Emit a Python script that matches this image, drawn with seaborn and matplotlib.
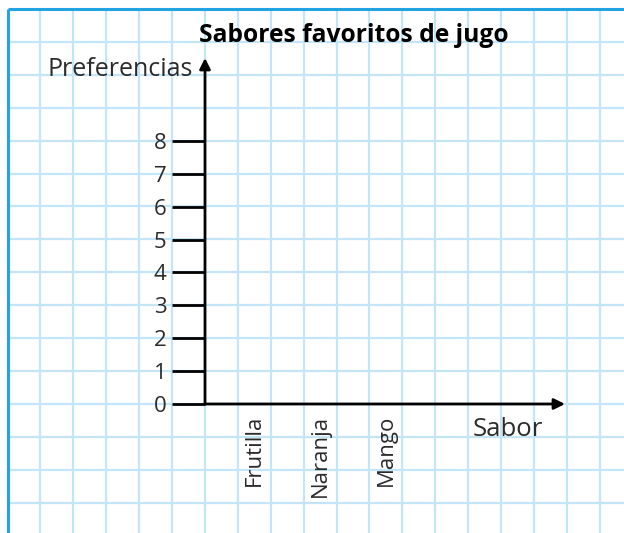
import matplotlib
matplotlib.use("Agg")
import matplotlib.pyplot as plt
import numpy as np
import pandas as pd
import seaborn as sns

# Chart content
sabores = ["Frutilla", "Naranja", "Mango"]
preferencias = [0, 0, 0]          # empty chart: no values filled in yet
valores_eje_y = [0, 1, 2, 3, 4, 5, 6, 7, 8]
titulo = "Sabores favoritos de jugo"
etiqueta_y = "Preferencias"
etiqueta_x = "Sabor"

sns.set_theme(style="white")
plt.rcParams["font.family"] = ["Open Sans", "DejaVu Sans"]

W, H = 624, 533
fig = plt.figure(figsize=(W / 100, H / 100), dpi=100)
fig.patch.set_facecolor("white")

# --- squared paper background (pixel coordinates) ---
bg = fig.add_axes([0, 0, 1, 1], zorder=0)
bg.set_xlim(0, W)
bg.set_ylim(H, 0)
bg.axis("off")
cell = 32.9
x0, y0 = 7.5, 9.0
grid_color = "#c4e5f7"
xs = np.arange(x0, W + 1, cell)
ys = np.arange(y0, H + 1, cell)
for x in xs[1:]:
    bg.plot([x, x], [y0, H], color=grid_color, lw=1.6, solid_capstyle="butt")
for y in ys[1:]:
    bg.plot([x0, W], [y, y], color=grid_color, lw=1.6, solid_capstyle="butt")
border = "#22a3e2"
bg.plot([x0, x0], [y0, H], color=border, lw=2.2, solid_capstyle="butt")
bg.plot([x0, W], [y0, y0], color=border, lw=2.2, solid_capstyle="butt")

# --- chart axes ---
ax_left, ax_right = 205, 565
ax_bottom, ax_top = 404, 58
ax = fig.add_axes([ax_left / W, (H - ax_bottom) / H,
                   (ax_right - ax_left) / W, (ax_bottom - ax_top) / H], zorder=2)
ax.patch.set_alpha(0)

df = pd.DataFrame({"Sabor": sabores, "Preferencias": preferencias})
sns.barplot(data=df, x="Sabor", y="Preferencias", ax=ax, color="#4a90d9")

units_x = (ax_right - ax_left) / cell
units_y = (ax_bottom - ax_top) / cell
ax.set_xlim(-0.75, (units_x - 1.5) / 2)
ax.set_ylim(0, units_y)

ax.set_yticks(valores_eje_y)
ax.set_yticklabels([str(v) for v in valores_eje_y])
ax.set_xticks(range(len(sabores)))
ax.set_xticklabels(sabores, rotation=90, va="top", ha="center")
ax.set_xlabel("")
ax.set_ylabel("")

text_color = "#2b2b2b"
ax.tick_params(axis="y", direction="out", length=cell * 72 / 100, width=2,
               color="black", pad=4, labelsize=16, labelcolor=text_color, left=True)
ax.tick_params(axis="x", length=0, pad=8, labelsize=16, labelcolor=text_color)

for s in ax.spines.values():
    s.set_visible(False)

arrow = dict(arrowstyle="-|>", lw=2, color="black", mutation_scale=16,
             shrinkA=0, shrinkB=0)
ax.annotate("", xy=(0, 1), xytext=(0, 0), xycoords="axes fraction",
            textcoords="axes fraction", arrowprops=arrow, annotation_clip=False)
ax.annotate("", xy=(1, 0), xytext=(0, 0), xycoords="axes fraction",
            textcoords="axes fraction", arrowprops=arrow, annotation_clip=False)

# --- titles and axis names ---
fig.text(354 / W, 1 - 36 / H, titulo, ha="center", va="center",
         fontsize=17.7, fontweight="bold", color="black")
fig.text(193 / W, 1 - 76 / H, etiqueta_y, ha="right", va="baseline",
         fontsize=18, color=text_color)
fig.text(473 / W, 1 - 436 / H, etiqueta_x, ha="left", va="baseline",
         fontsize=18.5, color=text_color)

fig.savefig("out.png", dpi=100, facecolor="white")
